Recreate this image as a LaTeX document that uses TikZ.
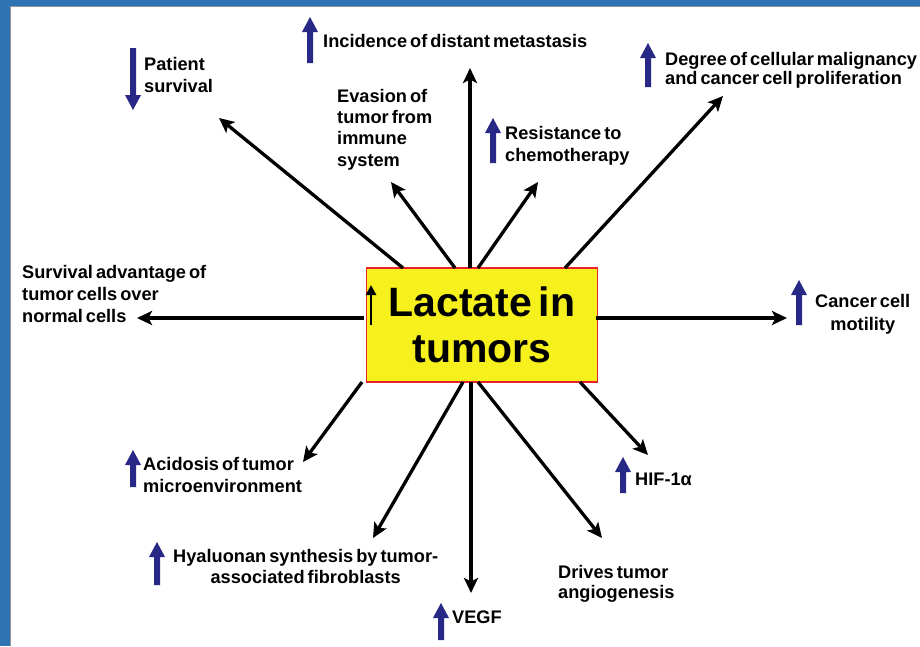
\documentclass[tikz,border=0pt]{standalone}
\usepackage{fontspec}
\setmainfont{Liberation Sans}[WordSpace=0.6]
\usetikzlibrary{arrows.meta}
\definecolor{frameblue}{RGB}{46,116,181}
\definecolor{framegray}{RGB}{150,150,150}
\definecolor{navy}{RGB}{40,40,135}
\definecolor{boxyellow}{RGB}{246,240,28}
\definecolor{boxred}{RGB}{230,35,40}

\begin{document}
\begin{tikzpicture}[x=1pt,y=-1pt,
  % labels are anchored at the baseline of their last line
  lbl/.style={inner sep=0pt, anchor=base west, align=left,
    font=\fontsize{18.2}{21.5}\selectfont\bfseries},
  conn/.style={line width=3.3pt, -{Stealth[length=15pt,width=14pt,inset=3.5pt]}},
  pics/upmark/.style={code={
    \fill[navy] (-3,0) -- (-3,{-#1+15}) -- (-8,{-#1+15}) -- (0,-#1)
      -- (8,{-#1+15}) -- (3,{-#1+15}) -- (3,0) -- cycle;}},
  pics/downmark/.style={code={
    \fill[navy] (-3,0) -- (-3,{#1-15}) -- (-8,{#1-15}) -- (0,#1)
      -- (8,{#1-15}) -- (3,{#1-15}) -- (3,0) -- cycle;}}
]
% page and frame
\useasboundingbox (0,0) rectangle (920,646);
\fill[white] (0,0) rectangle (920,646);
\fill[frameblue] (0,0) rectangle (920,5.5);
\fill[frameblue] (0,0) rectangle (9.5,646);
\draw[framegray, line width=0.8pt] (10,646) -- (10,6) -- (920,6);

% central box
\node[draw=boxred, line width=1.8pt, fill=boxyellow, minimum width=231pt,
  minimum height=114pt, inner sep=0pt, align=center,
  font=\fontsize{41}{46}\selectfont\bfseries] (box) at (482,325) {Lactate in\\tumors};
\coordinate (lup1) at (371,325);
\coordinate (lup2) at (371,285);
\draw[line width=2.6pt, -{Triangle[length=10pt,width=10pt]}] (lup1) -- (lup2);

% labels
\node[lbl, font=\fontsize{18.2}{22}\selectfont\bfseries] (surv) at (144,92) {Patient\\survival};
\pic at (133,48) {downmark=62};

\node[lbl] (meta) at (323,47) {Incidence of distant metastasis};
\pic at (310,63) {upmark=46};

\node[lbl, font=\fontsize{18.2}{21.3}\selectfont\bfseries] (evas) at (337,166) {Evasion of\\tumor from\\immune\\system};

\node[lbl] (chemo) at (505,161) {Resistance to\\chemotherapy};
\pic at (493,163) {upmark=45};

\node[lbl, font=\fontsize{18.2}{19}\selectfont\bfseries] (malig) at (665,84) {Degree of cellular malignancy\\and cancer cell proliferation};
\pic at (648,87) {upmark=44};

\node[lbl, font=\fontsize{18.2}{22}\selectfont\bfseries] (adv) at (22,322) {Survival advantage of\\tumor cells over\\normal cells};

\node[lbl, align=center, font=\fontsize{18.2}{23}\selectfont\bfseries] (motil) at (815,330) {Cancer cell\\motility};
\pic at (799,325) {upmark=45};

\node[lbl] (hif) at (635,485) {HIF-1α};
\pic at (623,493) {upmark=36};

\node[lbl, font=\fontsize{18.2}{20}\selectfont\bfseries] (angio) at (558,598) {Drives tumor\\angiogenesis};

\node[lbl] (vegf) at (452,623) {VEGF};
\pic at (441,640) {upmark=37};

\node[lbl, align=center, font=\fontsize{18.2}{21}\selectfont\bfseries] (hyal) at (173,583) {Hyaluonan synthesis by tumor-\\associated fibroblasts};
\pic at (157,585) {upmark=43};

\node[lbl, font=\fontsize{18.2}{22}\selectfont\bfseries] (acid) at (143,492) {Acidosis of tumor\\microenvironment};
\pic at (133,487) {upmark=37};

% connector ends
\coordinate (s1) at (403,268);  \coordinate (t1) at (219,118);
\coordinate (s2) at (455,268);  \coordinate (t2) at (391,182);
\coordinate (s3) at (470,268);  \coordinate (t3) at (470,68);
\coordinate (s4) at (478,268);  \coordinate (t4) at (538,182);
\coordinate (s5) at (565,268);  \coordinate (t5) at (723,96);
\coordinate (s6) at (364,318);  \coordinate (t6) at (137,318);
\coordinate (s7) at (596,318);  \coordinate (t7) at (787,318);
\coordinate (s8) at (580,382);  \coordinate (t8) at (648,455);
\coordinate (s9) at (478,382);  \coordinate (t9) at (602,538);
\coordinate (s10) at (471,382); \coordinate (t10) at (471,593);
\coordinate (s11) at (463,382); \coordinate (t11) at (373,538);
\coordinate (s12) at (362,382); \coordinate (t12) at (303,462);

\foreach \i in {1,...,12} \draw[conn] (s\i) -- (t\i);
\end{tikzpicture}
\end{document}
